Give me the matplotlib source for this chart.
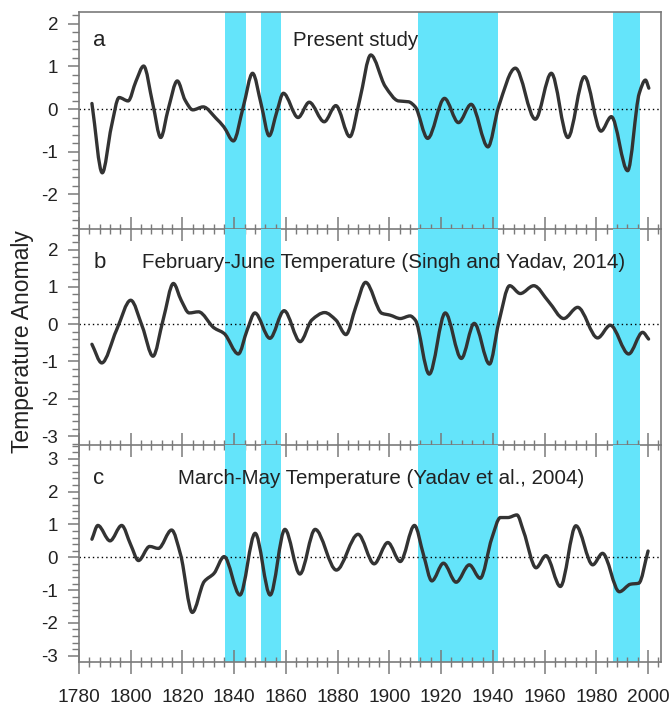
import numpy as np
import matplotlib
matplotlib.use("Agg")
import matplotlib.pyplot as plt
from matplotlib.path import Path
from matplotlib.patches import PathPatch
from matplotlib.ticker import MultipleLocator

plt.rcParams['font.family'] = ['Liberation Sans', 'DejaVu Sans']

# ---- data ----
years_a = [1785, 1789, 1792.5, 1795.5, 1799, 1802, 1805, 1808.5, 1811.6, 1814.5, 1818, 1821, 1824, 1828,
           1833, 1836, 1839.7, 1843.5, 1847.1, 1850.5, 1853.5, 1856.5, 1859, 1864.7, 1869, 1874.8, 1879.3,
           1884.7, 1888.5, 1892.8, 1898.4, 1903.5, 1907.4, 1910, 1914.8, 1921.3, 1926.7, 1931.6, 1938.1,
           1942.2, 1948.7, 1956.4, 1962.6, 1969, 1975.4, 1981.8, 1985.8, 1992.1, 1996.6, 1999, 2000.3]
values_a = [0.13, -1.50, -0.42, 0.27, 0.19, 0.65, 1.01, 0.13, -0.67, 0.0, 0.66, 0.21, -0.02, 0.05,
            -0.22, -0.42, -0.75, 0.05, 0.84, 0.09, -0.63, -0.06, 0.37, -0.20, 0.16, -0.30, 0.08,
            -0.65, 0.21, 1.27, 0.53, 0.19, 0.17, 0.05, -0.69, 0.25, -0.32, 0.11, -0.89,
            0.05, 0.96, -0.24, 0.84, -0.67, 0.76, -0.52, -0.18, -1.45, 0.37, 0.68, 0.49]

years_b = [1785, 1788.8, 1794.5, 1800, 1804.5, 1808.6, 1812.5, 1816.5, 1819.5, 1822.6, 1826.2, 1832.2,
           1836.1, 1841.6, 1845, 1848, 1853.8, 1859.3, 1865.5, 1870, 1875, 1879.3, 1883.2, 1887, 1890.8,
           1897.1, 1900.3, 1904.2, 1908, 1910, 1915.4, 1921.6, 1927.8, 1932.8, 1938.7, 1942.2, 1946.5,
           1950.6, 1955.8, 1961.6, 1967.4, 1972.8, 1980.5, 1985.4, 1992.5, 1997.9, 2000.2]
values_b = [-0.54, -1.04, -0.16, 0.64, -0.07, -0.86, 0.11, 1.09, 0.64, 0.30, 0.33, -0.10,
            -0.25, -0.80, -0.16, 0.30, -0.38, 0.36, -0.47, 0.11, 0.31, 0.11, -0.28, 0.46, 1.12,
            0.29, 0.24, 0.15, 0.22, 0.11, -1.34, 0.30, -0.92, 0.02, -1.07, 0.02, 1.03,
            0.82, 1.03, 0.60, 0.15, 0.45, -0.37, -0.03, -0.80, -0.22, -0.40]

years_c = [1785, 1787.3, 1792, 1796.5, 1800, 1803, 1807.3, 1810.7, 1815.8, 1819.3, 1823.8, 1828.4,
           1832.2, 1836.1, 1842.2, 1848.1, 1853.9, 1859.6, 1865.4, 1871.3, 1879.5, 1887.9, 1894.1,
           1899.4, 1904.2, 1909.7, 1913.2, 1916.4, 1920.9, 1925.8, 1930.9, 1935.1, 1939.6, 1942.9,
           1945.8, 1949.3, 1951.9, 1956.7, 1960.5, 1966.1, 1972.1, 1978.6, 1982.4, 1988.9, 1993.2,
           1996.4, 2000]
values_c = [0.55, 0.97, 0.50, 0.97, 0.38, -0.10, 0.33, 0.27, 0.83, 0.07, -1.68, -0.74,
            -0.49, 0.02, -1.15, 0.73, -1.15, 0.85, -0.51, 0.85, -0.39, 0.70, -0.20,
            0.45, -0.13, 0.97, 0.07, -0.72, -0.18, -0.76, -0.23, -0.64, 0.58, 1.21,
            1.21, 1.29, 0.78, -0.32, 0.05, -0.89, 0.96, -0.23, 0.12, -1.05, -0.82,
            -0.79, 0.19]

band_starts = [1836.5, 1850.3, 1910.9, 1986.3]
band_ends = [1844.6, 1858.0, 1941.8, 1997.0]

panel_letters = ['a', 'b', 'c']
panel_titles = ['Present study',
                'February-June Temperature (Singh and Yadav, 2014)',
                'March-May Temperature (Yadav et al., 2004)']
ylabel_text = 'Temperature Anomaly'


def smooth_path(x, y):
    """Monotone cubic (Fritsch-Carlson) Bezier path through the read points."""
    x = np.asarray(x, float)
    y = np.asarray(y, float)
    h = np.diff(x)
    d = np.diff(y) / h
    n = len(x)
    m = np.zeros(n)
    for i in range(1, n - 1):
        if d[i - 1] * d[i] > 0:
            w1 = 2 * h[i] + h[i - 1]
            w2 = h[i] + 2 * h[i - 1]
            m[i] = (w1 + w2) / (w1 / d[i - 1] + w2 / d[i])
    m[0] = d[0]
    m[-1] = d[-1]
    verts = [(x[0], y[0])]
    codes = [Path.MOVETO]
    for i in range(n - 1):
        verts += [(x[i] + h[i] / 3, y[i] + m[i] * h[i] / 3),
                  (x[i + 1] - h[i] / 3, y[i + 1] - m[i + 1] * h[i] / 3),
                  (x[i + 1], y[i + 1])]
        codes += [Path.CURVE4] * 3
    return Path(verts, codes)


W, H = 671, 708
fig = plt.figure(figsize=(W / 100, H / 100), dpi=100)

left = 79 / W
width = 582 / W
panels = [(12, 229), (229, 445), (445, 662)]
ylims = [(-2.82, 2.28), (-3.24, 2.55), (-3.19, 3.42)]
ymaj = [[-2, -1, 0, 1, 2], [-3, -2, -1, 0, 1, 2], [-3, -2, -1, 0, 1, 2, 3]]
series = [(years_a, values_a), (years_b, values_b), (years_c, values_c)]
title_x = [1862.7, 1804.4, 1818.3]

frame_col = '#7a7a7a'
text_col = '#222222'

axes = []
for k, (top, bot) in enumerate(panels):
    ax = fig.add_axes([left, (H - bot) / H, width, (bot - top) / H])
    axes.append(ax)
    ax.set_xlim(1780, 2005)
    ax.set_ylim(*ylims[k])
    for s0, s1 in zip(band_starts, band_ends):
        ax.axvspan(s0, s1, color='#64E4FA', lw=0, zorder=0)
    ax.axhline(0, color='black', lw=1.0, ls=(0, (1, 2.2)), zorder=1)
    xs, ys = series[k]
    ax.add_patch(PathPatch(smooth_path(xs, ys), fill=False, edgecolor='#333333',
                           lw=2.4, capstyle='round', joinstyle='round', zorder=3))

    # spines
    for sp in ax.spines.values():
        sp.set_color(frame_col)
        sp.set_linewidth(1.2)
    if k > 0:
        ax.spines['top'].set_visible(False)

    # ticks
    ax.xaxis.set_major_locator(MultipleLocator(20))
    ax.xaxis.set_minor_locator(MultipleLocator(4))
    ax.tick_params(axis='x', which='major', direction='inout', length=17, width=1.1,
                   color=frame_col, labelsize=13.8, labelcolor=text_col, pad=11)
    ax.tick_params(axis='x', which='minor', direction='inout', length=7.5, width=1.0,
                   color=frame_col)
    ax.set_yticks(ymaj[k])
    ax.yaxis.set_minor_locator(MultipleLocator(0.2))
    ax.tick_params(axis='y', which='major', direction='out', length=8, width=1.1,
                   color=frame_col, labelsize=13.5, labelcolor=text_col, pad=7)
    ax.tick_params(axis='y', which='minor', direction='out', length=5, width=1.0,
                   color=frame_col)
    ax.set_yticklabels([str(v) if v >= 0 else '-' + str(-v) for v in ymaj[k]])
    if k < 2:
        ax.tick_params(axis='x', labelbottom=False)
    ax.set_facecolor('none')

# panel text positions (pixel y centre)
text_y = [40, 263, 479]
for k, ax in enumerate(axes):
    top, bot = panels[k]
    frac = 1 - (text_y[k] - top) / (bot - top)
    ax.text(1785.5, frac, panel_letters[k], transform=ax.get_xaxis_transform(),
            fontsize=16, color=text_col, va='center', ha='left')
    ax.text(title_x[k], frac, panel_titles[k], transform=ax.get_xaxis_transform(),
            fontsize=14.8, color=text_col, va='center', ha='left')

fig.text(23 / W, 1 - 342 / H, ylabel_text, rotation=90, fontsize=16.5,
         color=text_col, va='center', ha='center')

fig.savefig('out.png', dpi=100)
